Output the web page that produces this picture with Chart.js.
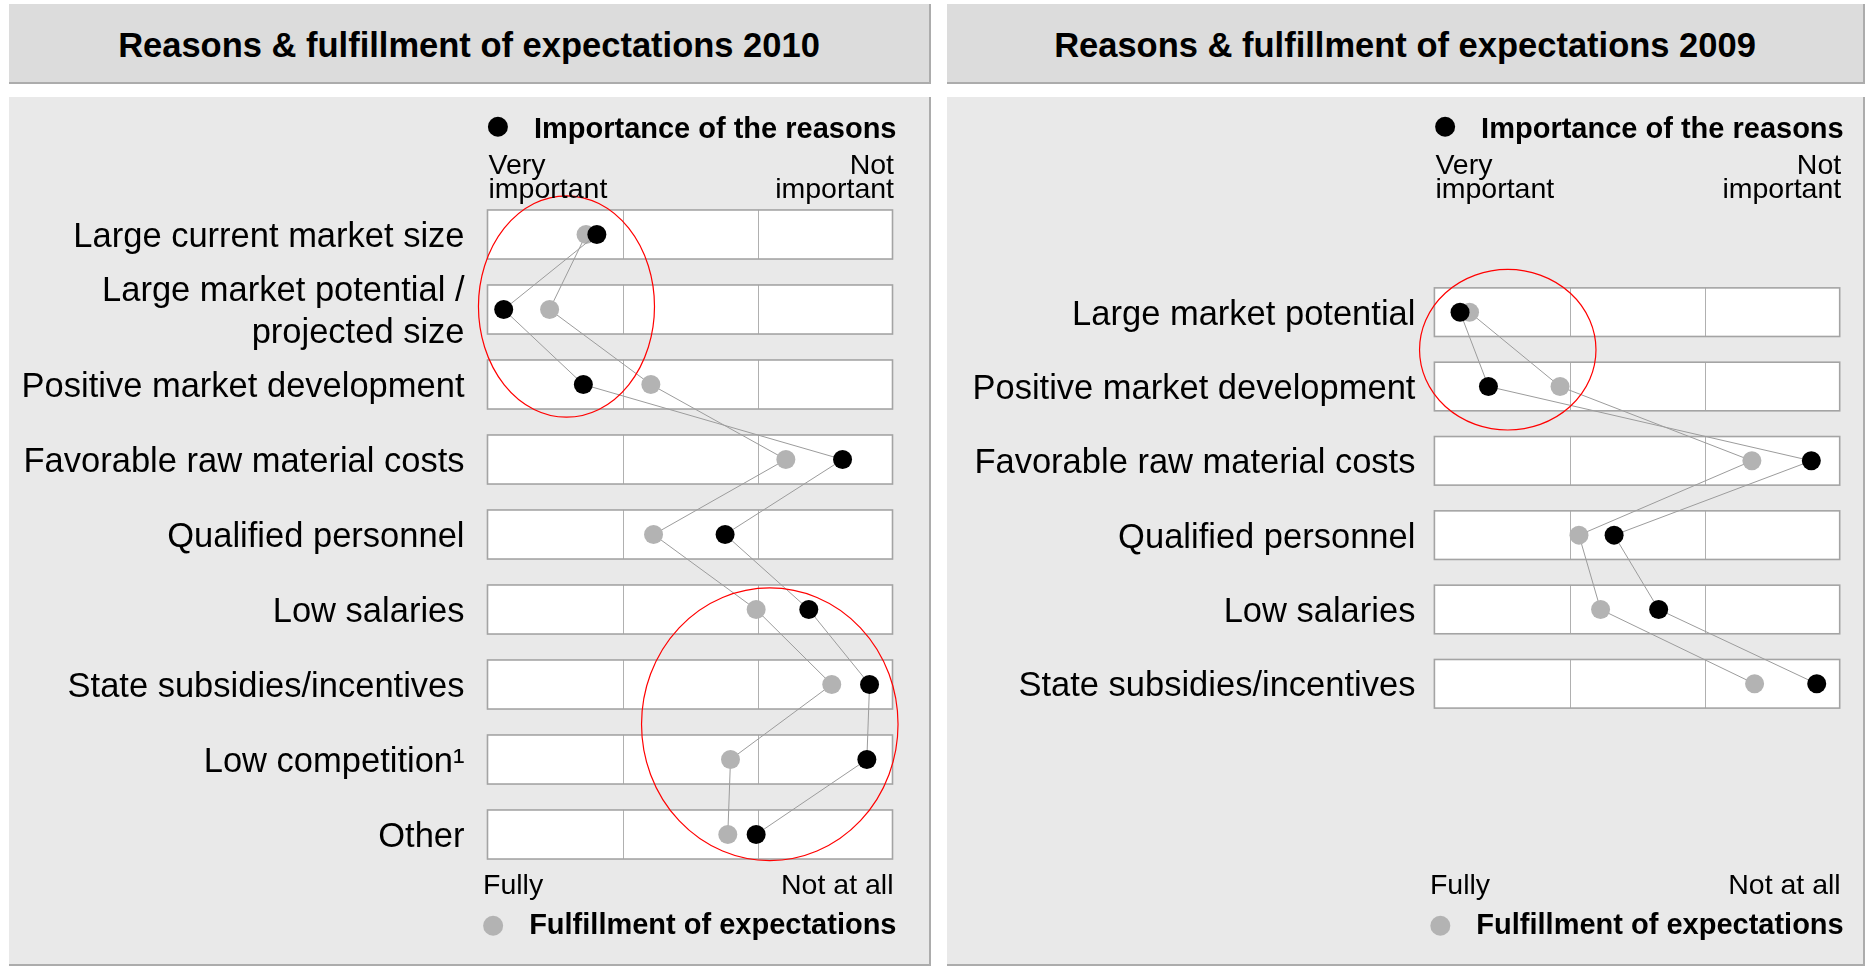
<!DOCTYPE html>
<html>
<head>
<meta charset="utf-8">
<script src="https://cdn.jsdelivr.net/npm/chart.js@4.4.0/dist/chart.umd.min.js"></script>
<style>
  html, body { margin: 0; padding: 0; background: #fff; }
  body { width: 1865px; height: 968px; position: relative; overflow: hidden;
         font-family: 'Liberation Sans', Arial, sans-serif; }
  .title { position: absolute; top: 4px; height: 80px; background: #dcdcdc;
           box-sizing: border-box; border-right: 2px solid #acacac; border-bottom: 2px solid #acacac;
           padding-top: 4px;
           display: flex; align-items: center; justify-content: center;
           font-weight: bold; font-size: 34.5px; color: #000; }
  .panel { position: absolute; top: 97px; height: 869px; background: #e9e9e9;
           box-sizing: border-box; border-right: 2px solid #acacac; border-bottom: 2px solid #acacac; }
  .panel canvas { display: block; }
  #t2010, #p2010 { left: 9px; width: 922px; }
  #t2009, #p2009 { left: 947px; width: 918px; }
</style>
</head>
<body>
<div class="title" id="t2010">Reasons &amp; fulfillment of expectations 2010</div>
<div class="title" id="t2009">Reasons &amp; fulfillment of expectations 2009</div>
<div class="panel" id="p2010"><canvas id="c2010" width="920" height="867"></canvas></div>
<div class="panel" id="p2009"><canvas id="c2009" width="916" height="867"></canvas></div>

<script>
// --- data (scale 1 = very important / fully, 4 = not important / not at all) ---
const reasons2010 = [
  'Large current market size',
  'Large market potential /\nprojected size',
  'Positive market development',
  'Favorable raw material costs',
  'Qualified personnel',
  'Low salaries',
  'State subsidies/incentives',
  'Low competition\u00b9',
  'Other',
];
const importance2010 = [1.81, 1.12, 1.71, 3.63, 2.76, 3.38, 3.83, 3.81, 2.99];
const fulfillment2010 = [1.73, 1.46, 2.21, 3.21, 2.23, 2.99, 3.55, 2.80, 2.78];

const reasons2009 = [
  'Large market potential',
  'Positive market development',
  'Favorable raw material costs',
  'Qualified personnel',
  'Low salaries',
  'State subsidies/incentives',
];
const importance2009 = [1.19, 1.40, 3.79, 2.33, 2.66, 3.83];
const fulfillment2009 = [1.26, 1.93, 3.35, 2.07, 2.23, 3.37];

const seriesNames = ['Importance of the reasons', 'Fulfillment of expectations'];
const importanceEnds = ['Very\nimportant', 'Not\nimportant'];
const fulfillmentEnds = ['Fully', 'Not at all'];
const scaleRange = [1, 4];

// red highlight rings, in data units (x on the 1-4 scale, y in rows)
const rings2010 = [
  { x: 1.585, y: 0.96, rx: 0.652, ry: 1.476 },
  { x: 3.091, y: 6.53, rx: 0.95, ry: 1.818 },
];
const rings2009 = [
  { x: 1.543, y: 0.505, rx: 0.653, ry: 1.08 },
];

// --- drawing ---
const FONT = "'Liberation Sans', Arial, sans-serif";
const BLACK = '#000000';
const GREY = '#b3b3b3';

function decorPlugin(p) {
  return {
    id: 'decor',
    beforeDatasetsDraw(chart) {
      const { ctx, scales: { x, y } } = chart;
      const x0 = x.getPixelForValue(scaleRange[0]);
      const x1 = x.getPixelForValue(scaleRange[1]);
      ctx.save();
      p.cats.forEach((_, i) => {
        const a = y.getPixelForValue(i + p.firstSlot - 0.327);
        const b = y.getPixelForValue(i + p.firstSlot + 0.327);
        const top = Math.min(a, b), h = Math.abs(b - a);
        ctx.fillStyle = '#ffffff';
        ctx.fillRect(x0, top, x1 - x0, h);
        ctx.strokeStyle = '#b0b0b0';
        ctx.lineWidth = 1;
        for (let v = scaleRange[0] + 1; v < scaleRange[1]; v++) {
          const xv = Math.round(x.getPixelForValue(v)) + 0.5;
          ctx.beginPath(); ctx.moveTo(xv, top); ctx.lineTo(xv, top + h); ctx.stroke();
        }
        ctx.strokeStyle = '#a4a4a4';
        ctx.lineWidth = 1.6;
        ctx.strokeRect(x0, top, x1 - x0, h);
      });
      ctx.restore();
    },
    afterDatasetsDraw(chart) {
      const { ctx, scales: { x, y }, chartArea } = chart;
      ctx.save();
      ctx.strokeStyle = '#ff0000';
      ctx.lineWidth = 1.2;
      p.rings.forEach((r) => {
        const cx = x.getPixelForValue(r.x);
        const cy = y.getPixelForValue(r.y + p.firstSlot);
        const rx = Math.abs(x.getPixelForValue(r.x + r.rx) - cx);
        const ry = Math.abs(y.getPixelForValue(r.y + p.firstSlot + r.ry) - cy);
        ctx.beginPath(); ctx.ellipse(cx, cy, rx, ry, 0, 0, Math.PI * 2); ctx.stroke();
      });

      // scale end labels and the two series keys
      const L = chartArea.left, R = chartArea.right;
      ctx.fillStyle = '#000';
      ctx.textBaseline = 'alphabetic';
      ctx.font = `28.5px ${FONT}`;
      const [lo, hi] = importanceEnds.map((s) => s.split('\n'));
      ctx.textAlign = 'left';
      lo.forEach((t, k) => ctx.fillText(t, L + 1, 76.5 + k * 24));
      ctx.textAlign = 'right';
      hi.forEach((t, k) => ctx.fillText(t, R + 1.5, 76.5 + k * 24));
      ctx.textAlign = 'left';
      ctx.fillText(fulfillmentEnds[0], L - 4.5, 797);
      ctx.textAlign = 'right';
      ctx.fillText(fulfillmentEnds[1], R + 1, 797);

      ctx.font = `bold 29px ${FONT}`;
      const keys = [
        { name: seriesNames[0], color: BLACK, base: 40.7, dotY: 29.7 },
        { name: seriesNames[1], color: GREY, base: 837, dotY: 828.7 },
      ];
      keys.forEach((k) => {
        const w = ctx.measureText(k.name).width;
        const tx = R + 4 - w;
        ctx.textAlign = 'left';
        ctx.fillStyle = '#000';
        ctx.fillText(k.name, tx, k.base);
        ctx.fillStyle = k.color;
        ctx.beginPath(); ctx.arc(tx - 36, k.dotY, 10, 0, Math.PI * 2); ctx.fill();
      });
      ctx.restore();
    },
  };
}

function makePanel(canvasId, p) {
  const toPts = (vals) => vals.map((v, i) => ({ x: v, y: i + p.firstSlot }));
  const line = { showLine: true, borderColor: '#9c9c9c', borderWidth: 1, pointRadius: 9.5,
    pointHoverRadius: 9.5, pointBorderWidth: 0, clip: false };
  return new Chart(document.getElementById(canvasId), {
    type: 'scatter',
    data: {
      datasets: [
        { ...line, label: seriesNames[0], data: toPts(p.importance), pointBackgroundColor: BLACK, backgroundColor: BLACK },
        { ...line, label: seriesNames[1], data: toPts(p.fulfillment), pointBackgroundColor: GREY, backgroundColor: GREY },
      ],
    },
    options: {
      responsive: false,
      animation: false,
      events: [],
      layout: { padding: p.padding },
      plugins: { legend: { display: false }, tooltip: { enabled: false } },
      scales: {
        x: { type: 'linear', min: scaleRange[0], max: scaleRange[1], display: false },
        y: {
          type: 'linear', reverse: true, min: -0.5, max: 8.5,
          grid: { display: false, drawTicks: false },
          border: { display: false },
          afterBuildTicks: (s) => { s.ticks = p.cats.map((_, i) => ({ value: i + p.firstSlot })); },
          afterFit: (s) => { s.width = p.axisWidth; },
          ticks: {
            autoSkip: false, padding: p.labelGap, labelOffset: 3, color: '#000',
            font: { family: FONT, size: 34.5 },
            callback: (v) => { const c = p.cats[v - p.firstSlot]; return c ? c.split('\n') : ''; },
          },
        },
      },
    },
    plugins: [decorPlugin(p)],
  });
}

makePanel('c2010', {
  cats: reasons2010, importance: importance2010, fulfillment: fulfillment2010,
  rings: rings2010, firstSlot: 0, axisWidth: 478.5, labelGap: 23,
  padding: { top: 100, bottom: 92, left: 0, right: 36.5 },
});
makePanel('c2009', {
  cats: reasons2009, importance: importance2009, fulfillment: fulfillment2009,
  rings: rings2009, firstSlot: 1, axisWidth: 487.4, labelGap: 19,
  padding: { top: 103.7, bottom: 94.4, left: 0, right: 23.3 },
});
</script>
</body>
</html>
